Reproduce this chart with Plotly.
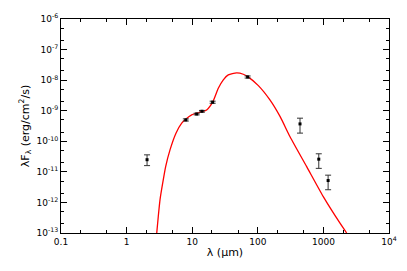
import plotly.graph_objects as go

# observed photometry
wave_obs = [2.05, 8.0, 11.7, 14.1, 20.5, 70.0, 440.0, 850.0, 1180.0]
flux_obs = [2.5e-11, 5.0e-10, 7.8e-10, 9.6e-10, 1.9e-9, 1.27e-8, 3.7e-10, 2.6e-11, 5.2e-12]
err_hi = [1.1e-11, 0.4e-10, 0.5e-10, 0.6e-10, 0.15e-9, 0.1e-8, 2.0e-10, 1.3e-11, 2.6e-12]
err_lo = [0.9e-11, 0.4e-10, 0.5e-10, 0.6e-10, 0.15e-9, 0.1e-8, 1.85e-10, 1.3e-11, 2.6e-12]

# model SED
wave_mod = [2.88, 3.04, 3.23, 3.55, 3.94, 4.59, 5.66, 6.92, 7.96, 9.82, 11.7, 13.96,
            16.6, 20.5, 25.0, 29.8, 35.5, 47.6, 60.1, 70.2, 102, 153, 218, 310, 556,
            996, 1791, 2265]
flux_mod = [1.0e-13, 3.47e-13, 1.22e-12, 4.27e-12, 1.48e-11, 5.25e-11, 1.84e-10, 3.9e-10,
            5.25e-10, 7.3e-10, 8.3e-10, 9.3e-10, 1.06e-9, 1.9e-9, 5.4e-9, 1.02e-8,
            1.48e-8, 1.72e-8, 1.56e-8, 1.30e-8, 6.6e-9, 2.25e-9, 6.5e-10, 1.41e-10,
            1.48e-11, 1.55e-12, 2.1e-13, 1.0e-13]

x_ticks = [0.1, 1, 10, 100, 1000, 10000]
x_labels = ["0.1", "1", "10", "100", "1000", "10<sup>4</sup>"]
y_ticks = [1e-13, 1e-12, 1e-11, 1e-10, 1e-9, 1e-8, 1e-7, 1e-6]
y_labels = ["10<sup>-13</sup>", "10<sup>-12</sup>", "10<sup>-11</sup>", "10<sup>-10</sup>",
            "10<sup>-9</sup>", "10<sup>-8</sup>", "10<sup>-7</sup>", "10<sup>-6</sup>"]

fig = go.Figure()

fig.add_trace(go.Scatter(x=wave_mod, y=flux_mod, mode="lines",
                         line=dict(color="red", width=1.3, shape="spline", smoothing=0.6)))

fig.add_trace(go.Scatter(
    x=wave_obs, y=flux_obs, mode="markers",
    marker=dict(color="black", size=3, symbol="square"),
    error_y=dict(type="data", array=err_hi, arrayminus=err_lo, color="#333333",
                 thickness=1, width=3),
))

axis_style = dict(type="log", showline=True, linecolor="black", linewidth=1,
                  mirror="allticks", ticks="inside", ticklen=6, tickcolor="black",
                  showgrid=False, zeroline=False, automargin=False,
                  minor=dict(ticks="inside", ticklen=3, tickcolor="black", showgrid=False))

# the page body adds an 8px offset, so the figure is 8px smaller
fig.update_layout(
    width=399, height=263,
    margin=dict(l=53, r=18, t=11, b=38),
    paper_bgcolor="white", plot_bgcolor="white",
    showlegend=False,
    font=dict(family="DejaVu Sans", size=9, color="black"),
    xaxis=dict(axis_style, range=[-1, 4], tickvals=x_ticks, ticktext=x_labels,
               title=dict(text="λ (μm)", standoff=2)),
    yaxis=dict(axis_style, range=[-13, -6], tickvals=y_ticks, ticktext=y_labels,
               title=dict(text="λF<sub>λ</sub> (erg/cm<sup>2</sup>/s)", standoff=4)),
)

fig.write_html("out.html")
